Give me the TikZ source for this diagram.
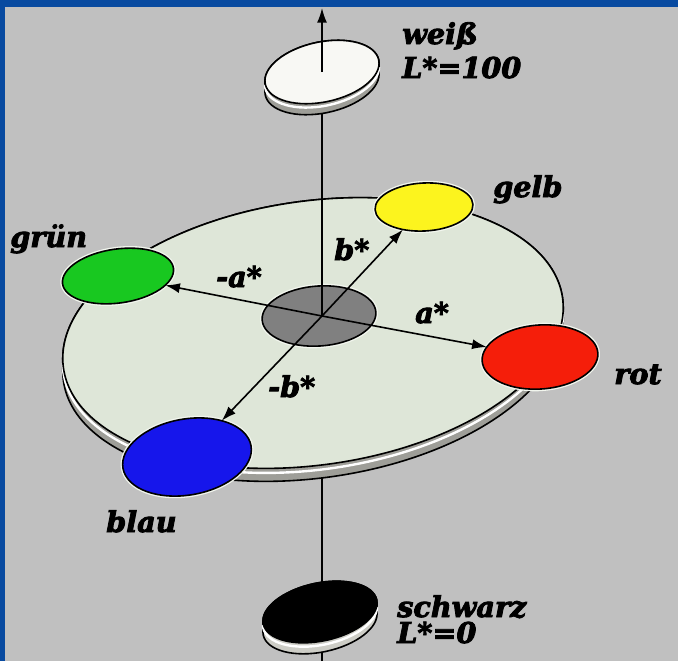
\documentclass[tikz,border=0pt]{standalone}
\usepackage{fontspec}
\setmainfont{DejaVu Serif}[BoldItalicFeatures={FakeBold=3}]
\usetikzlibrary{shapes.geometric,arrows.meta}
\definecolor{bgc}{RGB}{192,192,192}
\definecolor{frameblue}{RGB}{8,74,160}
\definecolor{surf}{RGB}{222,230,216}
\definecolor{rimgray}{RGB}{158,158,152}
\definecolor{rimlight}{RGB}{205,205,198}
\definecolor{centergray}{RGB}{128,128,128}
\definecolor{cgreen}{RGB}{24,200,32}
\definecolor{cyellow}{RGB}{252,244,30}
\definecolor{cred}{RGB}{245,30,10}
\definecolor{cblue}{RGB}{22,22,235}
\definecolor{facewhite}{RGB}{248,248,244}
\definecolor{halo}{RGB}{242,246,238}
\newcommand{\mycyl}[8]{%
  \pgfmathsetmacro{\cylT}{atan(-(#4/#3)*tan(#5))}%
  \pgfmathsetmacro{\cylDX}{-#6*sin(#5)}%
  \pgfmathsetmacro{\cylDY}{-#6*cos(#5)}%
  \begin{scope}[shift={(#1,#2)}, rotate=#5]
    \path[fill=#7, draw=black, line width=1.2pt, line join=round]
      (\cylT:#3 and #4) arc[start angle=\cylT, delta angle=180, x radius=#3, y radius=#4]
      -- ++(\cylDX,\cylDY)
      arc[start angle=\cylT+180, delta angle=180, x radius=#3, y radius=#4] -- cycle;
    \draw[white, line width=1.8pt]
      (\cylT+180:#3 and #4) ++(0.35*\cylDX,0.35*\cylDY)
      arc[start angle=\cylT+180, delta angle=180, x radius=#3, y radius=#4];
    \path[fill=#8, draw=black, line width=1.2pt] (0,0) ellipse [x radius=#3, y radius=#4];
  \end{scope}}
\tikzset{
  ell/.style n args={3}{shape=ellipse, minimum width={#1*1.5pt}, minimum height={#2*1.5pt},
    rotate=#3, inner sep=0pt, outer sep=0pt, draw=black, line width=1.2pt,
    preaction={draw=halo, line width=3.2pt}},
  axis/.style={line width=1.2pt, black},
  tipped/.style={-{Latex[length=11pt,width=7.5pt]}},
  lbl/.style={font=\fontsize{21.5}{25}\selectfont\bfseries\itshape, inner sep=0pt, anchor=base west}
}
\begin{document}
\begin{tikzpicture}[x=0.75pt,y=0.75pt]
\useasboundingbox (0,0) rectangle (678,-661);
\fill[bgc] (0,0) rectangle (678,-661);
\fill[frameblue] (0,0) rectangle (678,-7);
\fill[frameblue] (0,0) rectangle (5,-661);

\coordinate (bot) at (322,-661);
\coordinate (c) at (322,-316);
\coordinate (top) at (322,-8);
\coordinate (wc) at (322,-72);

% vertical axis behind everything
\draw[axis] (bot) -- (c);

% black disc (L*=0)
\mycyl{320}{-612}{58}{29}{12}{11}{rimlight}{black}

% big disc
\mycyl{313}{-333}{252}{132}{8}{13}{rimgray}{surf}

% neutral centre
\node[ell={57}{30}{4}, fill=centergray, preaction={}] (gy) at (319,-316) {};

% axis up to white disc
\draw[axis] (c) -- (wc);

% colour spots
\node[ell={56}{27}{8}, fill=cgreen] (gr) at (118,-276) {};
\node[ell={49}{24}{3}, fill=cyellow] (ye) at (424,-207) {};
\node[ell={58}{32}{4}, fill=cred] (re) at (540,-357) {};
\node[ell={65}{38}{10}, fill=cblue] (bl) at (187,-457) {};

% a*, b* axes
\draw[axis, tipped] (c) -- (gr);
\draw[axis, tipped] (c) -- (re);
\draw[axis, tipped] (c) -- (ye);
\draw[axis, tipped] (c) -- (bl);

% white disc (L*=100)
\mycyl{322}{-72}{58}{30}{12}{11}{rimgray}{facewhite}
\draw[axis, tipped] (wc) -- (top);

% labels
\node[lbl] (tw) at (402,-44) {weiß};
\node[lbl] (tw2) at (402,-78) {L*=100};
\node[lbl] (tge) at (493,-197) {gelb};
\node[lbl] (tgr) at (10,-247) {grün};
\node[lbl] (tma) at (216,-287) {-a*};
\node[lbl] (tb) at (334,-260) {b*};
\node[lbl] (ta) at (415,-323) {a*};
\node[lbl] (tmb) at (268,-397) {-b*};
\node[lbl] (tro) at (614,-384) {rot};
\node[lbl] (tbl) at (106,-532) {blau};
\node[lbl] (tsw) at (397,-617) {schwarz};
\node[lbl] (tsw2) at (397,-643) {L*=0};
\end{tikzpicture}
\end{document}
